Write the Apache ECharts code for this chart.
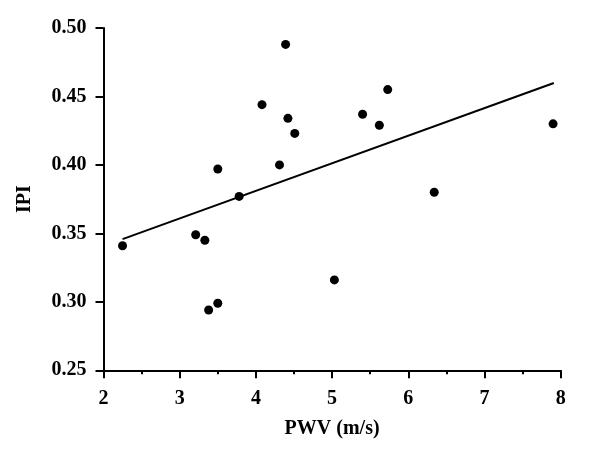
<!DOCTYPE html>
<html>
<head>
<meta charset="utf-8">
<script src="https://cdn.jsdelivr.net/npm/echarts@6/dist/echarts.min.js"></script>
<style>html,body{margin:0;padding:0;background:#fff}#c{width:600px;height:449px}</style>
</head>
<body>
<div id="c"></div>
<script>
const pwv = [4.39, 4.08, 4.42, 4.51, 4.31, 3.50, 3.78, 5.40, 5.73, 5.62, 7.90, 6.34, 2.25, 3.21, 3.33, 5.03, 3.38, 3.50];
const ipi = [0.488, 0.444, 0.434, 0.423, 0.400, 0.397, 0.377, 0.437, 0.455, 0.429, 0.430, 0.380, 0.341, 0.349, 0.345, 0.316, 0.294, 0.299];
const fitX = [2.25, 7.91];
const fitY = [0.3458, 0.4598];
const xTicks = [2, 3, 4, 5, 6, 7, 8];
const yTicks = [0.25, 0.30, 0.35, 0.40, 0.45, 0.50];

const font = '"Liberation Serif", "Times New Roman", serif';
const chart = echarts.init(document.getElementById('c'), null, {renderer: 'canvas'});
chart.setOption({
  animation: false,
  backgroundColor: '#fff',
  grid: {left: 103.5, right: 39.3, top: 28, bottom: 78.7},
  xAxis: {
    type: 'value', min: xTicks[0], max: xTicks[xTicks.length - 1], interval: 1,
    name: 'PWV (m/s)', nameLocation: 'middle', nameGap: 49,
    nameTextStyle: {fontFamily: font, fontWeight: 'bold', fontSize: 20, color: '#000'},
    axisLine: {show: true, onZero: false, lineStyle: {color: '#000', width: 2}},
    axisTick: {show: true, inside: false, length: 8, lineStyle: {color: '#000', width: 2}},
    minorTick: {show: true, splitNumber: 2, length: 4, lineStyle: {color: '#000', width: 2}},
    axisLabel: {fontFamily: font, fontWeight: 'bold', fontSize: 20, color: '#000', margin: 19},
    splitLine: {show: false}
  },
  yAxis: {
    type: 'value', min: yTicks[0], max: yTicks[yTicks.length - 1], interval: 0.05,
    name: 'IPI', nameLocation: 'middle', nameGap: 69, nameRotate: 90,
    nameTextStyle: {fontFamily: font, fontWeight: 'bold', fontSize: 20, color: '#000'},
    axisLine: {show: true, onZero: false, lineStyle: {color: '#000', width: 2}},
    axisTick: {show: true, inside: false, length: 8, lineStyle: {color: '#000', width: 2}},
    axisLabel: {fontFamily: font, fontWeight: 'bold', fontSize: 20, color: '#000', margin: 17,
      formatter: v => v.toFixed(2)},
    splitLine: {show: false}
  },
  series: [
    {
      type: 'scatter', symbol: 'circle', symbolSize: 9,
      itemStyle: {color: '#000', opacity: 1},
      data: pwv.map((x, i) => [x, ipi[i]])
    },
    {
      type: 'line', symbol: 'none', silent: true,
      lineStyle: {color: '#000', width: 2},
      data: fitX.map((x, i) => [x, fitY[i]])
    }
  ]
});
</script>
</body>
</html>
